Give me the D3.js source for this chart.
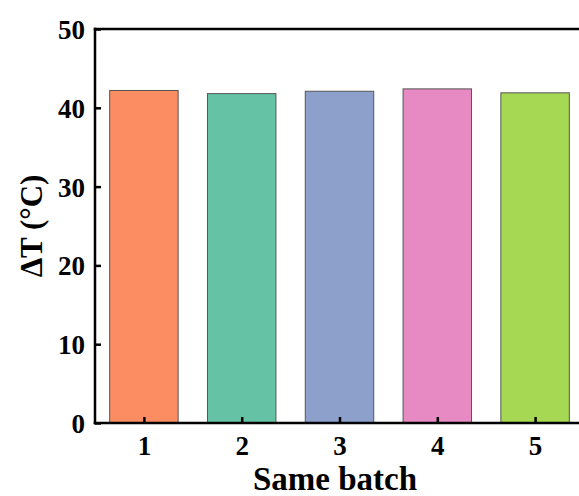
<!DOCTYPE html>
<html lang="en">
<head>
  <meta charset="UTF-8">
  <title>Same batch ΔT</title>
  <script src="https://d3js.org/d3.v7.min.js"></script>
  <style>
    html, body { margin: 0; background: #fff; overflow: hidden; }
    svg { display: block; }
    svg text { font-family: 'Liberation Serif', 'Times New Roman', serif; font-weight: bold; fill: #000; }
  </style>
</head>
<body>
<svg width="579" height="496"></svg>
<script>
  const batches = [1, 2, 3, 4, 5];
  const deltaT = [42.2, 41.8, 42.1, 42.4, 41.9];
  const barColors = ["#FC8D62", "#66C2A5", "#8DA0CB", "#E78AC3", "#A6D854"];
  const yTicks = [0, 10, 20, 30, 40, 50];

  const margin = { left: 95, top: 29, bottom: 73 };
  const width = 579, height = 496;
  const plotRight = 584; // the plot continues past the right edge, as in the source

  const svg = d3.select("svg");

  const x = d3.scaleLinear().domain([0.5, 5.5]).range([margin.left, plotRight]);
  const y = d3.scaleLinear().domain([0, 50]).range([height - margin.bottom, margin.top]);
  const barW = (x(2) - x(1)) * 0.7;

  // bars
  svg.selectAll("rect.bar")
    .data(batches)
    .enter()
    .append("rect")
    .attr("class", "bar")
    .attr("x", (d) => x(d) - barW / 2)
    .attr("y", (d, i) => y(deltaT[i]))
    .attr("width", barW)
    .attr("height", (d, i) => y(0) - y(deltaT[i]))
    .attr("fill", (d, i) => barColors[i])
    .attr("stroke", "#555")
    .attr("stroke-width", 1);

  // frame: top, left and bottom (right side is off the page)
  const frame = [
    [margin.left, y(50), width + 10, y(50)],
    [margin.left, y(50), margin.left, y(0)],
    [margin.left, y(0), width + 10, y(0)]
  ];
  svg.selectAll("line.frame")
    .data(frame)
    .enter()
    .append("line")
    .attr("class", "frame")
    .attr("x1", (d) => d[0]).attr("y1", (d) => d[1])
    .attr("x2", (d) => d[2]).attr("y2", (d) => d[3])
    .attr("stroke", "#000")
    .attr("stroke-width", 2.5)
    .attr("stroke-linecap", "square");

  // axes with inward ticks
  const yAxis = svg.append("g")
    .attr("transform", `translate(${margin.left},0)`)
    .call(d3.axisRight(y).tickValues(yTicks).tickSize(6).tickFormat(d3.format("d")));
  yAxis.select(".domain").remove();
  yAxis.selectAll("line").attr("stroke-width", 2.5);
  yAxis.selectAll("text")
    .attr("x", -10)
    .attr("dy", "0.35em")
    .attr("text-anchor", "end")
    .style("font-size", "27px");

  const xAxis = svg.append("g")
    .attr("transform", `translate(0,${y(0)})`)
    .call(d3.axisTop(x).tickValues(batches).tickSize(6).tickFormat(d3.format("d")));
  xAxis.select(".domain").remove();
  xAxis.selectAll("line").attr("stroke-width", 2.5);
  xAxis.selectAll("text")
    .attr("y", 32)
    .attr("dy", 0)
    .attr("text-anchor", "middle")
    .style("font-size", "27px");

  // axis titles
  svg.append("text")
    .attr("x", 335)
    .attr("y", 490)
    .attr("text-anchor", "middle")
    .style("font-size", "33px")
    .text("Same batch");

  svg.append("text")
    .attr("transform", `translate(42,${(margin.top + y(0)) / 2}) rotate(-90)`)
    .attr("text-anchor", "middle")
    .style("font-size", "31px")
    .text("ΔT (°C)");
</script>
</body>
</html>
